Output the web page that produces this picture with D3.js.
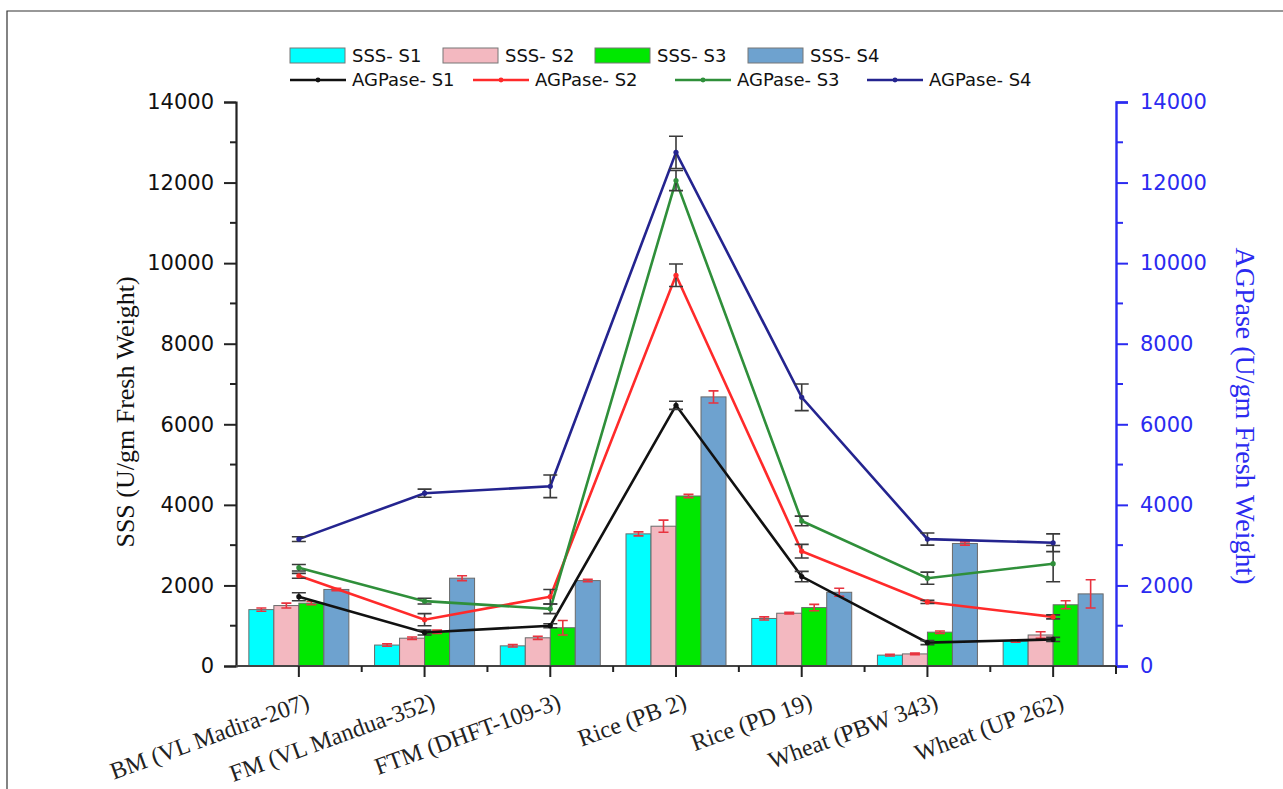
<!DOCTYPE html>
<html>
<head>
<meta charset="utf-8">
<script src="https://cdn.jsdelivr.net/npm/d3@7"></script>
<style>
	body { margin: 0; background: #fff; }
	svg { display: block; }
	.tick-label { font-family: "DejaVu Sans", sans-serif; font-size: 21px; }
	.legend text { font-family: "DejaVu Sans", sans-serif; font-size: 18px; fill: #111; }
	.cat-label { font-family: "Liberation Serif", serif; font-size: 24px; fill: #222; }
	.axis-title { font-family: "Liberation Serif", serif; }
</style>
</head>
<body>
<svg id="chart" width="1283" height="789"></svg>
<script>
var categories = ["BM (VL Madira-207)", "FM (VL Mandua-352)", "FTM (DHFT-109-3)", "Rice (PB 2)", "Rice (PD 19)", "Wheat (PBW 343)", "Wheat (UP 262)"];

// SSS bars (left axis)
var sssS1 = [1400, 520, 500, 3280, 1180, 270, 620];
var sssS2 = [1500, 690, 700, 3470, 1310, 300, 770];
var sssS3 = [1560, 850, 950, 4220, 1450, 840, 1520];
var sssS4 = [1900, 2180, 2120, 6680, 1830, 3040, 1790];
var sssErrS1 = [40, 30, 30, 50, 40, 20, 30];
var sssErrS2 = [60, 30, 40, 150, 20, 20, 80];
var sssErrS3 = [40, 40, 180, 40, 80, 30, 100];
var sssErrS4 = [30, 60, 30, 150, 100, 40, 350];

// AGPase lines (right axis)
var agpS1 = [1720, 830, 1000, 6470, 2220, 580, 660];
var agpS2 = [2240, 1150, 1720, 9700, 2850, 1590, 1220];
var agpS3 = [2440, 1610, 1420, 12050, 3600, 2180, 2540];
var agpS4 = [3150, 4290, 4460, 12750, 6670, 3150, 3060];
var agpErrS1 = [100, 60, 50, 100, 130, 50, 50];
var agpErrS2 = [60, 150, 180, 280, 170, 40, 50];
var agpErrS3 = [80, 70, 120, 250, 120, 150, 450];
var agpErrS4 = [60, 100, 280, 400, 330, 150, 220];

var yTicks = [0, 2000, 4000, 6000, 8000, 10000, 12000, 14000];

var barSeries = [
	{ name: "SSS- S1", values: sssS1, errs: sssErrS1, color: "#00ffff" },
	{ name: "SSS- S2", values: sssS2, errs: sssErrS2, color: "#f3b8c0" },
	{ name: "SSS- S3", values: sssS3, errs: sssErrS3, color: "#00e800" },
	{ name: "SSS- S4", values: sssS4, errs: sssErrS4, color: "#6ea2cf" }
];
var lineSeries = [
	{ name: "AGPase- S1", values: agpS1, errs: agpErrS1, color: "#111111" },
	{ name: "AGPase- S2", values: agpS2, errs: agpErrS2, color: "#ff2a2a" },
	{ name: "AGPase- S3", values: agpS3, errs: agpErrS3, color: "#2f8f3a" },
	{ name: "AGPase- S4", values: agpS4, errs: agpErrS4, color: "#24248f" }
];

var svg = d3.select("#chart");
// plot box (window.top is reserved, so named plotTop etc)
var plotLeft = 236, plotRight = 1116, plotTop = 102, plotBottom = 666;
var axisBlue = "#2b2bf0";

// frame (only top and left edges are visible in the source)
svg.append("path").attr("d", "M7,789 V11 H1283").attr("fill", "none").attr("stroke", "#333").attr("stroke-width", 1.2);

var x = d3.scaleBand().domain(categories).range([plotLeft, plotRight]);
var xs = d3.scaleBand().domain(barSeries.map(function(s) { return s.name; })).range([-50, 50]);
var y = d3.scaleLinear().domain([0, 14000]).range([plotBottom, plotTop]);
var yR = d3.scaleLinear().domain([0, 14000]).range([plotBottom, plotTop]);

function cx(c) { return x(c) + x.bandwidth() / 2; }

// bars
barSeries.forEach(function(s) {
	var g = svg.append("g");
	g.selectAll("rect").data(categories).enter().append("rect")
		.attr("x", function(c) { return cx(c) + xs(s.name); })
		.attr("width", xs.bandwidth())
		.attr("y", function(c, i) { return y(s.values[i]); })
		.attr("height", function(c, i) { return plotBottom - y(s.values[i]); })
		.attr("fill", s.color)
		.attr("stroke", "#6a6a6a")
		.attr("stroke-width", 1);

	g.selectAll("path.err").data(categories).enter().append("path")
		.attr("class", "err")
		.attr("d", function(c, i) {
			var bx = cx(c) + xs(s.name) + xs.bandwidth() / 2,
				y0 = y(s.values[i] - s.errs[i]),
				y1 = y(s.values[i] + s.errs[i]);
			return "M" + (bx - 5) + "," + y1 + "H" + (bx + 5) + "M" + bx + "," + y1 + "V" + y0 + "M" + (bx - 5) + "," + y0 + "H" + (bx + 5);
		})
		.attr("stroke", "#e8333f")
		.attr("stroke-width", 1.6)
		.attr("fill", "none");
});

// lines
var line = d3.line().x(function(d) { return d[0]; }).y(function(d) { return d[1]; });

lineSeries.forEach(function(s) {
	var g = svg.append("g");
	var pts = categories.map(function(c, i) { return [cx(c), yR(s.values[i])]; });

	g.append("path").attr("d", line(pts))
		.attr("fill", "none")
		.attr("stroke", s.color)
		.attr("stroke-width", 2.6)
		.attr("stroke-linejoin", "miter");

	g.selectAll("path.err").data(categories).enter().append("path")
		.attr("class", "err")
		.attr("d", function(c, i) {
			var px = cx(c),
				y0 = yR(s.values[i] - s.errs[i]),
				y1 = yR(s.values[i] + s.errs[i]);
			return "M" + (px - 7) + "," + y1 + "H" + (px + 7) + "M" + px + "," + y1 + "V" + y0 + "M" + (px - 7) + "," + y0 + "H" + (px + 7);
		})
		.attr("stroke", "#3a3a3a")
		.attr("stroke-width", 1.6)
		.attr("fill", "none");

	g.selectAll("circle").data(pts).enter().append("circle")
		.attr("cx", function(d) { return d[0]; })
		.attr("cy", function(d) { return d[1]; })
		.attr("r", 2.6)
		.attr("fill", s.color);
});

// left axis
var yAxis = svg.append("g").attr("transform", "translate(" + plotLeft + ",0)")
	.call(d3.axisLeft(y).tickValues(yTicks).tickSize(12).tickPadding(10).tickFormat(d3.format("d")));
yAxis.select(".domain").attr("stroke", "#222").attr("stroke-width", 2.2);
yAxis.selectAll(".tick line").attr("stroke", "#222").attr("stroke-width", 2);
yAxis.selectAll(".tick text").attr("class", "tick-label").attr("fill", "#111");
yAxis.append("g").selectAll("line").data(d3.range(1000, 14000, 2000)).enter().append("line")
	.attr("x1", -6).attr("x2", 0)
	.attr("y1", function(d) { return y(d); }).attr("y2", function(d) { return y(d); })
	.attr("stroke", "#222").attr("stroke-width", 2);

// right axis
var yAxisR = svg.append("g").attr("transform", "translate(" + plotRight + ",0)")
	.call(d3.axisRight(yR).tickValues(yTicks).tickSize(12).tickPadding(12).tickFormat(d3.format("d")));
yAxisR.select(".domain").attr("stroke", axisBlue).attr("stroke-width", 2.4);
yAxisR.selectAll(".tick line").attr("stroke", axisBlue).attr("stroke-width", 2);
yAxisR.selectAll(".tick text").attr("class", "tick-label").attr("fill", axisBlue);
yAxisR.append("g").selectAll("line").data(d3.range(1000, 14000, 2000)).enter().append("line")
	.attr("x1", 0).attr("x2", 7)
	.attr("y1", function(d) { return yR(d); }).attr("y2", function(d) { return yR(d); })
	.attr("stroke", axisBlue).attr("stroke-width", 2);

// bottom axis
var xAxis = svg.append("g").attr("transform", "translate(0," + plotBottom + ")");
xAxis.append("line").attr("x1", plotLeft).attr("x2", plotRight).attr("stroke", "#444").attr("stroke-width", 2.2);
xAxis.selectAll("line.major").data(categories).enter().append("line")
	.attr("class", "major")
	.attr("x1", cx).attr("x2", cx).attr("y1", 0).attr("y2", 11)
	.attr("stroke", "#222").attr("stroke-width", 2);
xAxis.selectAll("line.minor").data(categories.slice(1)).enter().append("line")
	.attr("class", "minor")
	.attr("x1", function(c) { return x(c); }).attr("x2", function(c) { return x(c); })
	.attr("y1", 0).attr("y2", 6)
	.attr("stroke", "#222").attr("stroke-width", 2);
xAxis.append("line").attr("x1", plotRight).attr("x2", plotRight).attr("y1", 0).attr("y2", 8).attr("stroke", "#222").attr("stroke-width", 2);

svg.append("g").selectAll("text").data(categories).enter().append("text")
	.attr("class", "cat-label")
	.attr("text-anchor", "end")
	.attr("transform", function(c) { return "translate(" + (cx(c) + 12) + "," + (plotBottom + 42) + ") rotate(-20)"; })
	.text(function(c) { return c; });

// axis titles
svg.append("text").attr("class", "axis-title")
	.attr("transform", "translate(134," + ((plotTop + plotBottom) / 2 + 28) + ") rotate(-90)")
	.attr("text-anchor", "middle")
	.attr("font-size", 26)
	.attr("fill", "#111")
	.text("SSS (U/gm Fresh Weight)");

svg.append("text").attr("class", "axis-title")
	.attr("transform", "translate(1236," + ((plotTop + plotBottom) / 2 + 32) + ") rotate(90)")
	.attr("text-anchor", "middle")
	.attr("font-size", 28)
	.attr("fill", axisBlue)
	.text("AGPase (U/gm Fresh Weight)");

// legend
var legend = svg.append("g").attr("class", "legend");
var boxX = [290, 443, 595, 748];
var lineX = [290, 473, 675, 867];

barSeries.forEach(function(s, i) {
	legend.append("rect").attr("x", boxX[i]).attr("y", 48).attr("width", 55).attr("height", 15)
		.attr("fill", s.color).attr("stroke", "#777").attr("stroke-width", 1);
	legend.append("text").attr("x", boxX[i] + 62).attr("y", 62).text(s.name);
});

lineSeries.forEach(function(s, i) {
	legend.append("line").attr("x1", lineX[i]).attr("x2", lineX[i] + 56).attr("y1", 80).attr("y2", 80)
		.attr("stroke", s.color).attr("stroke-width", 2.4);
	legend.append("circle").attr("cx", lineX[i] + 28).attr("cy", 80).attr("r", 2.4).attr("fill", s.color);
	legend.append("text").attr("x", lineX[i] + 62).attr("y", 86).text(s.name);
});
</script>
</body>
</html>
